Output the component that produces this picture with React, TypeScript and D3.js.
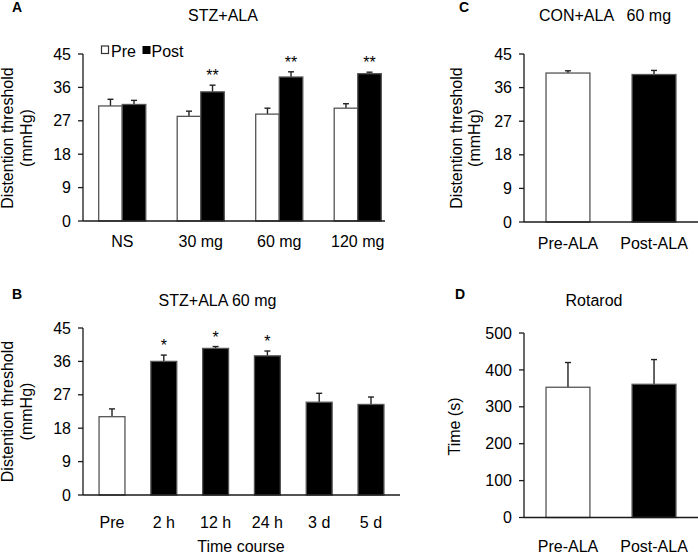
import React from "react";
import * as d3 from "d3";

// Panel A: STZ+ALA dose response
const doseCategories = ["NS", "30 mg", "60 mg", "120 mg"];
const dosePre = [31.0, 28.2, 28.8, 30.4];
const dosePreErr = [1.8, 1.4, 1.6, 1.2];
const dosePost = [31.4, 34.8, 38.8, 39.7];
const dosePostErr = [1.1, 1.8, 1.4, 0.4];
const doseSig = ["", "**", "**", "**"];
const thresholdTicks = [0, 9, 18, 27, 36, 45];

// Panel B: time course
const timeCategories = ["Pre", "2 h", "12 h", "24 h", "3 d", "5 d"];
const timeValues = [21.1, 36.0, 39.5, 37.5, 25.0, 24.4];
const timeErr = [2.1, 1.7, 0.5, 1.3, 2.4, 2.0];
const timeSig = ["", "*", "*", "*", "", ""];
const timeIsPost = [false, true, true, true, true, true];

// Panel C: CON+ALA 60 mg
const conCategories = ["Pre-ALA", "Post-ALA"];
const conValues = [39.9, 39.5];
const conErr = [0.6, 1.1];

// Panel D: Rotarod
const rotCategories = ["Pre-ALA", "Post-ALA"];
const rotValues = [353, 361];
const rotErr = [67, 67];
const rotTicks = [0, 100, 200, 300, 400, 500];

const FONT = "'Liberation Sans', Arial, Helvetica, sans-serif";
const AXIS = "#1a1a1a";
const BAR_STROKE = "#555";

type Bar = { x: number; w: number; v: number; e: number; fill: string; sig?: string };

function YAxis({ x0, y, ticks, xEnd }: { x0: number; y: d3.ScaleLinear<number, number>; ticks: number[]; xEnd: number }) {
  const [r0, r1] = y.range();
  return (
    <g>
      <line x1={x0} x2={x0} y1={r0} y2={r1} stroke={AXIS} strokeWidth={1.3} />
      <line x1={x0} x2={xEnd} y1={r0} y2={r0} stroke={AXIS} strokeWidth={1.3} />
      {ticks.map((t) => (
        <g key={t}>
          <line x1={x0 - 5} x2={x0} y1={y(t)} y2={y(t)} stroke={AXIS} strokeWidth={1.3} />
          <text x={x0 - 12} y={y(t)} dy="0.35em" textAnchor="end" fontSize={16} fontFamily={FONT} fill="#000">
            {t}
          </text>
        </g>
      ))}
    </g>
  );
}

function Bars({ bars, y }: { bars: Bar[]; y: d3.ScaleLinear<number, number> }) {
  const y0 = y(0);
  return (
    <g>
      {bars.map((b, i) => {
        const cx = b.x + b.w / 2;
        const top = y(b.v);
        const et = y(b.v + b.e);
        return (
          <g key={i}>
            <line x1={cx} x2={cx} y1={top} y2={et} stroke="#222" strokeWidth={1.4} />
            <line x1={cx - 3} x2={cx + 3} y1={et} y2={et} stroke="#222" strokeWidth={1.4} />
            <rect x={b.x} y={top} width={b.w} height={y0 - top} fill={b.fill} stroke={BAR_STROKE} strokeWidth={1.3} />
            {b.sig ? (
              <text x={cx} y={et - 4} textAnchor="middle" fontSize={16} fontFamily={FONT} fill="#000">
                {b.sig}
              </text>
            ) : null}
          </g>
        );
      })}
    </g>
  );
}

function YLabel({ lines, y }: { lines: { text: string; x: number }[]; y: number }) {
  return (
    <g>
      {lines.map((l, i) => (
        <text
          key={i}
          transform={`translate(${l.x},${y}) rotate(-90)`}
          textAnchor="middle"
          fontSize={16}
          fontFamily={FONT}
          fill="#000"
        >
          {l.text}
        </text>
      ))}
    </g>
  );
}

export default function App() {
  // Panel A
  const aX0 = 83;
  const aY = d3.scaleLinear().domain([0, 45]).range([221, 54]);
  const aBand = d3.scaleBand<string>().domain(doseCategories).range([83, 397]).paddingInner(0.4).paddingOuter(0.2);
  const aSub = d3.scaleBand<string>().domain(["pre", "post"]).range([0, aBand.bandwidth()]);
  const aBars: Bar[] = [];
  doseCategories.forEach((c, i) => {
    const gx = aBand(c)!;
    aBars.push({ x: gx + aSub("pre")!, w: aSub.bandwidth(), v: dosePre[i], e: dosePreErr[i], fill: "#fff" });
    aBars.push({ x: gx + aSub("post")!, w: aSub.bandwidth(), v: dosePost[i], e: dosePostErr[i], fill: "#000", sig: doseSig[i] });
  });

  // Panel B
  const bX0 = 83;
  const bY = d3.scaleLinear().domain([0, 45]).range([495, 328]);
  const bBand = d3.scaleBand<string>().domain(timeCategories).range([83, 400]).paddingInner(0.5).paddingOuter(0.31);
  const bBars: Bar[] = timeCategories.map((c, i) => ({
    x: bBand(c)!,
    w: bBand.bandwidth(),
    v: timeValues[i],
    e: timeErr[i],
    fill: timeIsPost[i] ? "#000" : "#fff",
    sig: timeSig[i],
  }));

  // Panel C
  const cX0 = 524;
  const cY = d3.scaleLinear().domain([0, 45]).range([222, 54]);
  const cBand = d3.scaleBand<string>().domain(conCategories).range([524, 698]).paddingInner(0.49).paddingOuter(0.256);
  const cBars: Bar[] = conCategories.map((c, i) => ({
    x: cBand(c)!,
    w: cBand.bandwidth(),
    v: conValues[i],
    e: conErr[i],
    fill: i === 0 ? "#fff" : "#000",
  }));

  // Panel D
  const dX0 = 524;
  const dY = d3.scaleLinear().domain([0, 500]).range([517.5, 333]);
  const dBand = d3.scaleBand<string>().domain(rotCategories).range([524, 698]).paddingInner(0.49).paddingOuter(0.256);
  const dBars: Bar[] = rotCategories.map((c, i) => ({
    x: dBand(c)!,
    w: dBand.bandwidth(),
    v: rotValues[i],
    e: rotErr[i],
    fill: i === 0 ? "#fff" : "#000",
  }));

  const txt = { fontFamily: FONT, fill: "#000" } as const;

  return (
    <div style={{ position: "absolute", left: 0, top: 0 }}>
      <svg width={698} height={554} style={{ display: "block", background: "#fff" }}>
        {/* Panel letters */}
        <text x={12} y={12} fontSize={14} fontWeight="bold" {...txt}>A</text>
        <text x={12} y={299} fontSize={14} fontWeight="bold" {...txt}>B</text>
        <text x={459} y={12} fontSize={14} fontWeight="bold" {...txt}>C</text>
        <text x={455} y={299} fontSize={14} fontWeight="bold" {...txt}>D</text>

        {/* Titles */}
        <text x={223} y={20.5} textAnchor="middle" fontSize={16} {...txt}>STZ+ALA</text>
        <text x={217.5} y={306} textAnchor="middle" fontSize={16} {...txt}>STZ+ALA 60 mg</text>
        <text x={605} y={20.5} textAnchor="middle" fontSize={16} style={{ whiteSpace: "pre" }} {...txt}>{"CON+ALA   60 mg"}</text>
        <text x={594} y={306} textAnchor="middle" fontSize={16} {...txt}>Rotarod</text>

        {/* Panel A */}
        <YLabel lines={[{ text: "Distention threshold", x: 13 }, { text: "(mmHg)", x: 31.5 }]} y={138} />
        <Bars bars={aBars} y={aY} />
        <YAxis x0={aX0} y={aY} ticks={thresholdTicks} xEnd={385} />
        {doseCategories.map((c) => (
          <text key={c} x={aBand(c)! + aBand.bandwidth() / 2} y={246.5} textAnchor="middle" fontSize={16} {...txt}>{c}</text>
        ))}
        {/* Legend */}
        <rect x={101.5} y={46} width={7} height={7.5} fill="#fff" stroke="#333" strokeWidth={1.2} />
        <text x={111} y={56.5} fontSize={16} {...txt}>Pre</text>
        <rect x={142.5} y={46} width={8} height={8} fill="#000" />
        <text x={151.5} y={56.5} fontSize={16} {...txt}>Post</text>

        {/* Panel B */}
        <YLabel lines={[{ text: "Distention threshold", x: 13 }, { text: "(mmHg)", x: 31.5 }]} y={411.5} />
        <Bars bars={bBars} y={bY} />
        <YAxis x0={bX0} y={bY} ticks={thresholdTicks} xEnd={400} />
        {timeCategories.map((c) => (
          <text key={c} x={bBand(c)! + bBand.bandwidth() / 2} y={528} textAnchor="middle" fontSize={16} {...txt}>{c}</text>
        ))}
        <text x={241} y={552} textAnchor="middle" fontSize={16} {...txt}>Time course</text>

        {/* Panel C */}
        <YLabel lines={[{ text: "Distention threshold", x: 461.5 }, { text: "(mmHg)", x: 480 }]} y={138} />
        <Bars bars={cBars} y={cY} />
        <YAxis x0={cX0} y={cY} ticks={thresholdTicks} xEnd={698} />
        {conCategories.map((c) => (
          <text key={c} x={cBand(c)! + cBand.bandwidth() / 2} y={249} textAnchor="middle" fontSize={16} {...txt}>{c}</text>
        ))}

        {/* Panel D */}
        <YLabel lines={[{ text: "Time (s)", x: 460 }]} y={426.5} />
        <Bars bars={dBars} y={dY} />
        <YAxis x0={dX0} y={dY} ticks={rotTicks} xEnd={698} />
        {rotCategories.map((c) => (
          <text key={c} x={dBand(c)! + dBand.bandwidth() / 2} y={551.5} textAnchor="middle" fontSize={16} {...txt}>{c}</text>
        ))}
      </svg>
    </div>
  );
}
